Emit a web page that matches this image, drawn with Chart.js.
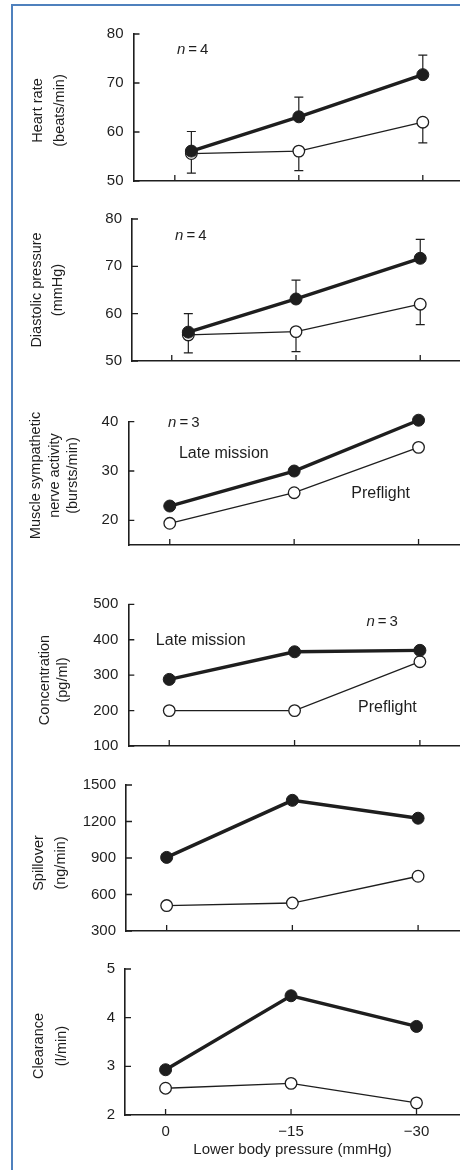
<!DOCTYPE html>
<html>
<head>
<meta charset="utf-8">
<title>Lower body negative pressure responses</title>
<script src="https://cdn.jsdelivr.net/npm/chart.js@4.4.1/dist/chart.umd.min.js"></script>
<style>
  html, body { margin: 0; padding: 0; background: #ffffff; }
  body { width: 460px; height: 1170px; overflow: hidden; position: relative; }
  .frame {
    position: absolute; left: 11px; top: 4px; right: -10px; bottom: -10px;
    border-left: 2px solid #4f81bd; border-top: 2px solid #4f81bd;
    pointer-events: none; z-index: 2;
  }
  canvas { position: absolute; left: 0; }
</style>
</head>
<body>
<div class="frame"></div>
<canvas id="hr" width="460" height="200" style="top:0px"></canvas>
<canvas id="dp" width="460" height="180" style="top:200px"></canvas>
<canvas id="msna" width="460" height="185" style="top:380px"></canvas>
<canvas id="conc" width="460" height="200" style="top:565px"></canvas>
<canvas id="spill" width="460" height="185" style="top:765px"></canvas>
<canvas id="clear" width="460" height="220" style="top:950px"></canvas>
<script>
// Lower body pressure levels (mmHg) and their axis labels
const pressure = [0, -15, -30];
const pressureLabels = ['0', '\u221215', '\u221230'];

// Heart rate (beats/min); the 0 mmHg points sit just right of their tick
const hrX = [-2, -15, -30];
const hrLate = [56.1, 63.1, 71.7];
const hrPre = [55.6, 56.1, 62.0];
const hrLateErr = [60.1, 67.1, 75.7];
const hrPreErr = [51.6, 52.1, 57.8];
const hrTicks = [50, 60, 70, 80];

// Diastolic pressure (mmHg)
const dpX = [-2, -15, -30];
const dpLate = [56.1, 63.1, 71.7];
const dpPre = [55.5, 56.2, 62.0];
const dpLateErr = [60.0, 67.1, 75.7];
const dpPreErr = [51.7, 52.0, 57.7];
const dpTicks = [50, 60, 70, 80];

// Muscle sympathetic nerve activity (bursts/min)
const msnaLate = [22.9, 30.0, 40.3];
const msnaPre = [19.4, 25.6, 34.8];
const msnaTicks = [20, 30, 40];

// Noradrenaline concentration (pg/ml)
const concLate = [288, 366, 370];
const concPre = [200, 200, 338];
const concTicks = [100, 200, 300, 400, 500];

// Noradrenaline spillover (ng/min)
const spillLate = [905, 1374, 1227];
const spillPre = [509, 530, 750];
const spillTicks = [300, 600, 900, 1200, 1500];

// Noradrenaline clearance (l/min)
const clearLate = [2.93, 4.45, 3.82];
const clearPre = [2.55, 2.65, 2.25];
const clearTicks = [2, 3, 4, 5];

const INK = '#1e1e1e';
const FONT = '"Liberation Sans", Arial, Helvetica, sans-serif';
Chart.defaults.font.family = FONT;
Chart.defaults.color = INK;

const nLabel = (k) => [['n', true], ['\u2009=\u2009' + k, false]];

const panels = [
  { id: 'hr', axisLeft: 133.5, pad: { top: 34, bottom: 17 }, xRange: [-34.5, 5],
    yRange: [50, 80], yTicks: hrTicks, xs: hrX,
    late: hrLate, pre: hrPre, lateErr: hrLateErr, preErr: hrPreErr,
    title: { lines: ['Heart rate', '(beats/min)'], xs: [38, 59.5], y: 110.5 },
    notes: [{ parts: nLabel(4), x: -0.25, y: 76.8, size: 15 }] },
  { id: 'dp', axisLeft: 132, pad: { top: 14, bottom: 16 }, xRange: [-34.8, 4.8],
    yRange: [50, 80], yTicks: dpTicks, xs: dpX,
    late: dpLate, pre: dpPre, lateErr: dpLateErr, preErr: dpPreErr,
    title: { lines: ['Diastolic pressure', '(mmHg)'], xs: [37, 58], y: 90 },
    notes: [{ parts: nLabel(4), x: -0.4, y: 76.5, size: 15 }] },
  { id: 'msna', axisLeft: 128.3, pad: { top: 41.7, bottom: 20 }, xRange: [-35, 5],
    yRange: [15, 40], yTicks: msnaTicks, xs: pressure,
    late: msnaLate, pre: msnaPre,
    title: { lines: ['Muscle sympathetic', 'nerve activity', '(bursts/min)'], xs: [36, 54.5, 73], y: 95.5 },
    notes: [
      { parts: nLabel(3), x: 0.2, y: 39.7, size: 15 },
      { parts: [['Late mission', false]], x: -1.1, y: 33.6, size: 16 },
      { parts: [['Preflight', false]], x: -21.9, y: 25.5, size: 16 }
    ] },
  { id: 'conc', axisLeft: 128.3, pad: { top: 39.3, bottom: 12 }, xRange: [-34.8, 4.9],
    yRange: [100, 500], yTicks: concTicks, xs: pressure,
    late: concLate, pre: concPre,
    title: { lines: ['Concentration', '(pg/ml)'], xs: [45, 63], y: 115 },
    notes: [
      { parts: nLabel(3), x: -23.6, y: 449.7, size: 15 },
      { parts: [['Late mission', false]], x: 1.6, y: 396.7, size: 16 },
      { parts: [['Preflight', false]], x: -22.6, y: 208.4, size: 16 }
    ] },
  { id: 'spill', axisLeft: 126, pad: { top: 20, bottom: 16 }, xRange: [-35, 4.85],
    yRange: [300, 1500], yTicks: spillTicks, xs: pressure,
    late: spillLate, pre: spillPre,
    title: { lines: ['Spillover', '(ng/min)'], xs: [38.5, 60.5], y: 98 },
    notes: [] },
  { id: 'clear', axisLeft: 125, pad: { top: 15, bottom: 3 }, xRange: [-35.2, 4.85],
    yRange: [2, 5], yTicks: clearTicks, xs: pressure,
    late: clearLate, pre: clearPre,
    title: { lines: ['Clearance', '(l/min)'], xs: [38.5, 61.5], y: 96 },
    notes: [], xAxisTitle: 'Lower body pressure (mmHg)', xAxisHeight: 52 }
];

// Short tick marks drawn on the inner side of both axes
const inwardTicks = {
  id: 'inwardTicks',
  beforeDatasetsDraw(chart) {
    const { ctx, chartArea: a, scales: { x, y } } = chart;
    ctx.save();
    ctx.strokeStyle = INK;
    ctx.lineWidth = 1.3;
    ctx.beginPath();
    y.ticks.forEach(t => {
      const py = y.getPixelForValue(t.value);
      ctx.moveTo(a.left, py); ctx.lineTo(a.left + 6, py);
    });
    x.ticks.forEach(t => {
      const px = x.getPixelForValue(t.value);
      ctx.moveTo(px, a.bottom); ctx.lineTo(px, a.bottom - 6);
    });
    ctx.stroke();
    ctx.restore();
  }
};

// One-sided error bars: each dataset carries the value at which its bar ends
const errorBars = {
  id: 'errorBars',
  beforeDatasetsDraw(chart) {
    const { ctx, scales: { x, y } } = chart;
    ctx.save();
    ctx.strokeStyle = INK;
    ctx.lineWidth = 1.2;
    chart.data.datasets.forEach(ds => {
      if (!ds.errEnd) return;
      ds.data.forEach((pt, i) => {
        const px = x.getPixelForValue(pt.x);
        const p0 = y.getPixelForValue(pt.y);
        const p1 = y.getPixelForValue(ds.errEnd[i]);
        ctx.beginPath();
        ctx.moveTo(px, p0); ctx.lineTo(px, p1);
        ctx.moveTo(px - 4.5, p1); ctx.lineTo(px + 4.5, p1);
        ctx.stroke();
      });
    });
    ctx.restore();
  }
};

// Rotated y-axis titles and in-plot annotations for one panel
function panelText(p) {
  return {
    id: 'panelText',
    afterDraw(chart) {
      const { ctx, scales: { x, y } } = chart;
      ctx.save();
      ctx.fillStyle = INK;
      ctx.font = '14.5px ' + FONT;
      ctx.textAlign = 'center';
      ctx.textBaseline = 'middle';
      p.title.lines.forEach((ln, i) => {
        ctx.save();
        ctx.translate(p.title.xs[i], p.title.y);
        ctx.rotate(-Math.PI / 2);
        ctx.fillText(ln, 0, 0);
        ctx.restore();
      });
      ctx.textAlign = 'left';
      p.notes.forEach(n => {
        let cx = x.getPixelForValue(n.x);
        const cy = y.getPixelForValue(n.y);
        n.parts.forEach(([t, italic]) => {
          ctx.font = (italic ? 'italic ' : '') + n.size + 'px ' + FONT;
          ctx.fillText(t, cx, cy);
          cx += ctx.measureText(t).width;
        });
      });
      ctx.restore();
    }
  };
}

function drawPanel(p) {
  const pts = vals => vals.map((v, i) => ({ x: p.xs[i], y: v }));
  const showX = !!p.xAxisTitle;
  new Chart(document.getElementById(p.id), {
    type: 'line',
    data: {
      datasets: [
        { label: 'Late mission', data: pts(p.late), errEnd: p.lateErr,
          borderColor: INK, backgroundColor: INK, borderWidth: 3.4,
          pointRadius: 6, pointBorderWidth: 1, pointBackgroundColor: INK, pointBorderColor: INK,
          tension: 0, clip: false },
        { label: 'Preflight', data: pts(p.pre), errEnd: p.preErr,
          borderColor: INK, backgroundColor: '#ffffff', borderWidth: 1.3,
          pointRadius: 5.8, pointBorderWidth: 1.3, pointBackgroundColor: '#ffffff', pointBorderColor: INK,
          tension: 0, clip: false }
      ]
    },
    options: {
      responsive: false,
      animation: false,
      devicePixelRatio: 1,
      events: [],
      layout: { autoPadding: false, padding: { left: 0, right: 0, top: p.pad.top, bottom: p.pad.bottom } },
      plugins: { legend: { display: false }, tooltip: { enabled: false } },
      scales: {
        x: {
          type: 'linear', reverse: true, min: p.xRange[0], max: p.xRange[1],
          afterBuildTicks: s => { s.ticks = pressure.map(v => ({ value: v })); },
          afterFit: s => { s.height = p.xAxisHeight || 0; },
          grid: { display: false, drawTicks: false },
          border: { display: true, color: INK, width: 1.6 },
          ticks: {
            display: showX, padding: 8, color: INK, font: { size: 15 },
            callback: v => pressureLabels[pressure.indexOf(v)]
          },
          title: showX
            ? { display: true, text: p.xAxisTitle, color: INK, font: { size: 15 }, padding: { top: 0, bottom: 8 } }
            : { display: false }
        },
        y: {
          type: 'linear', min: p.yRange[0], max: p.yRange[1],
          afterBuildTicks: s => { s.ticks = p.yTicks.map(v => ({ value: v })); },
          afterFit: s => { s.width = p.axisLeft; },
          grid: { display: false, drawTicks: false },
          border: { display: true, color: INK, width: 1.6 },
          ticks: { padding: 10, color: INK, font: { size: 15 }, callback: v => String(v) }
        }
      }
    },
    plugins: [inwardTicks, errorBars, panelText(p)]
  });
}

panels.forEach(drawPanel);
</script>
</body>
</html>
